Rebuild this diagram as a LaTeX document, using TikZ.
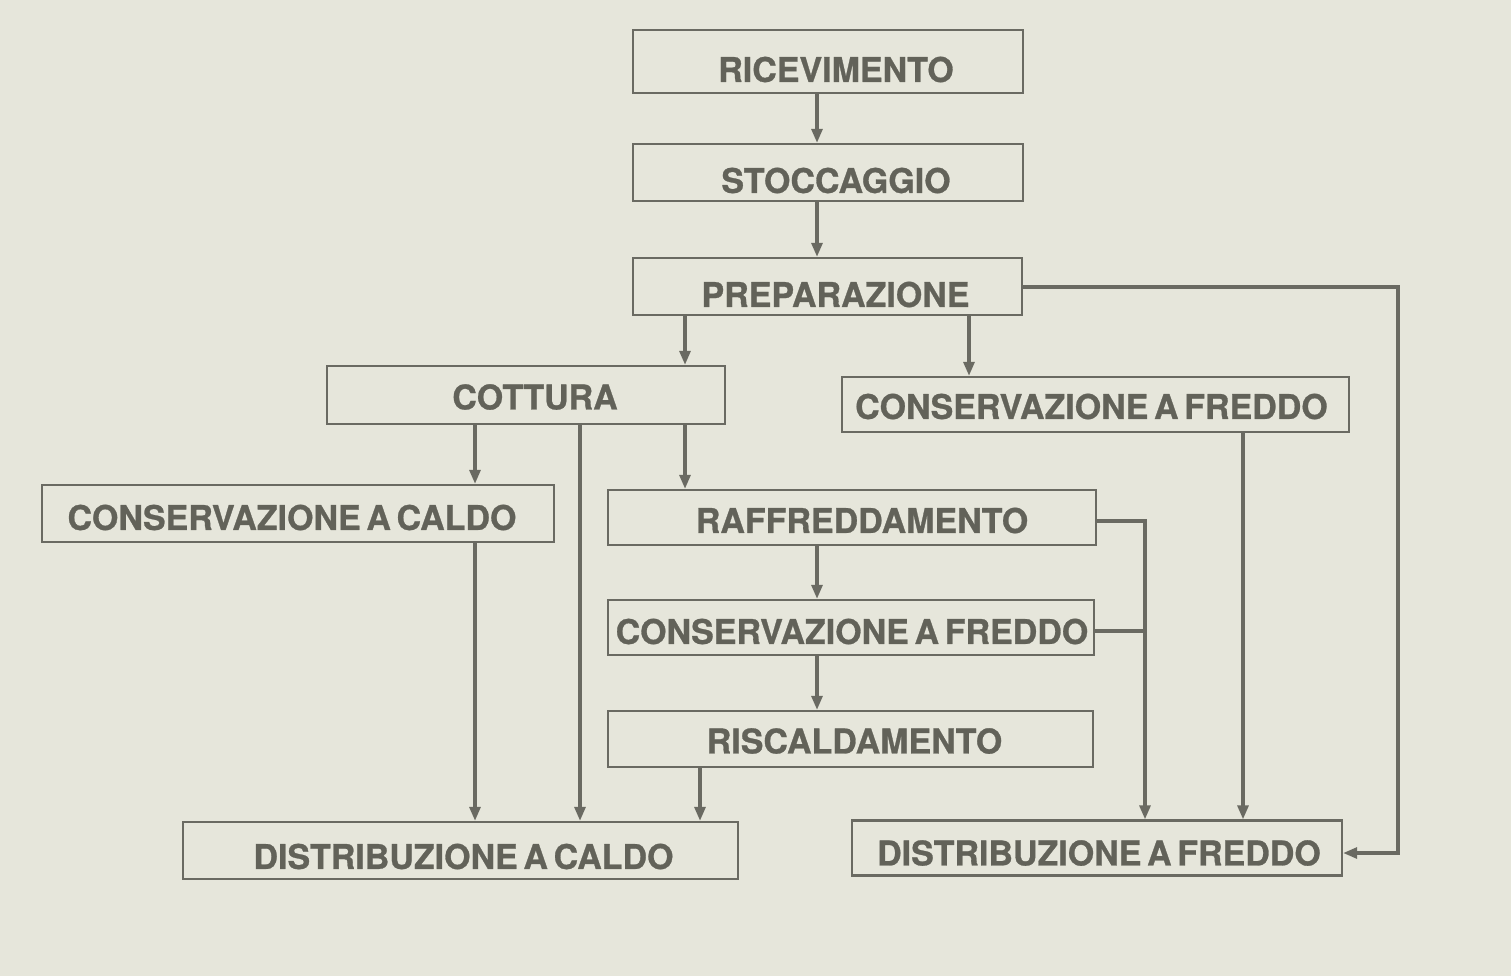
\documentclass[tikz,border=0pt]{standalone}
\usepackage{fontspec}
\setmainfont{TeX Gyre Heros}
\newfontfamily\lblfont{TeX Gyre Heros}[WordSpace=0.6,BoldFeatures={FakeBold=0.8}]
\usetikzlibrary{arrows.meta}
\definecolor{bg}{HTML}{E6E6DB}
\definecolor{ln}{HTML}{6A6A62}
\definecolor{tx}{HTML}{626259}
\begin{document}
\begin{tikzpicture}[x=0.5pt,y=-0.5pt,
  box/.style={draw=ln,line width=1.1pt,fill=bg,inner sep=0pt},
  lbl/.style={text=tx,font=\lblfont\fontsize{17}{19}\selectfont\bfseries,inner sep=0pt},
  arr/.style={draw=ln,line width=1.7pt,-{Triangle[length=7pt,width=5.4pt]}},
  ln2/.style={draw=ln,line width=1.7pt}]
\fill[bg] (0,0) rectangle (1511,976);
\useasboundingbox (0,0) rectangle (1511,976);
% boxes
\node[box,minimum width=195pt,minimum height=31.5pt,label={[lbl,xshift=4pt,yshift=-4pt]center:RICEVIMENTO}] (ric) at (828,61.5) {};
\node[box,minimum width=195pt,minimum height=28.5pt,label={[lbl,xshift=4pt,yshift=-4pt]center:STOCCAGGIO}] (sto) at (828,172.5) {};
\node[box,minimum width=194.5pt,minimum height=28.5pt,label={[lbl,xshift=4pt,yshift=-4pt]center:PREPARAZIONE}] (prep) at (827.5,286.5) {};
\node[box,minimum width=199pt,minimum height=29pt,label={[lbl,xshift=4.5pt,yshift=-1pt]center:COTTURA}] (cot) at (526,395) {};
\node[box,minimum width=253.5pt,minimum height=27.5pt,label={[lbl,xshift=-2pt,yshift=-1pt]center:CONSERVAZIONE A FREDDO}] (cf1) at (1095.5,404.5) {};
\node[box,minimum width=256pt,minimum height=28.5pt,label={[lbl,xshift=-3pt,yshift=-2pt]center:CONSERVAZIONE A CALDO}] (cc) at (298,513.5) {};
\node[box,minimum width=244pt,minimum height=27.5pt,label={[lbl,xshift=5pt,yshift=-1.5pt]center:RAFFREDDAMENTO}] (raf) at (852,517.5) {};
\node[box,minimum width=243pt,minimum height=27.5pt,label={[lbl,xshift=0.5pt,yshift=-2pt]center:CONSERVAZIONE A FREDDO}] (cf2) at (851,627.5) {};
\node[box,minimum width=242.5pt,minimum height=28pt,label={[lbl,xshift=2pt,yshift=-1pt]center:RISCALDAMENTO}] (ris) at (850.5,739) {};
\node[box,minimum width=277.5pt,minimum height=28.5pt,label={[lbl,xshift=1.5pt,yshift=-3pt]center:DISTRIBUZIONE A CALDO}] (dc) at (460.5,850.5) {};
\node[box,minimum width=245pt,minimum height=27.5pt,label={[lbl,xshift=1pt,yshift=-2.5pt]center:DISTRIBUZIONE A FREDDO}] (df) at (1097,848) {};
% connectors
\draw[arr] (ric.south -| 817,0) -- (sto.north -| 817,0);
\draw[arr] (sto.south -| 817,0) -- (prep.north -| 817,0);
\draw[arr] (prep.south -| 685,0) -- (cot.north -| 685,0);
\draw[arr] (prep.south -| 969,0) -- (cf1.north -| 969,0);
\coordinate (pr1) at (1398,287);
\coordinate (pr2) at (1398,853);
\draw[arr] (prep.east |- pr1) -- (pr1) -- (pr2) -- (df.east |- pr2);
\draw[arr] (cot.south -| 475,0) -- (cc.north -| 475,0);
\draw[arr] (cot.south -| 580,0) -- (dc.north -| 580,0);
\draw[arr] (cot.south -| 685,0) -- (raf.north -| 685,0);
\draw[arr] (cc.south -| 475,0) -- (dc.north -| 475,0);
\draw[arr] (raf.south -| 817,0) -- (cf2.north -| 817,0);
\draw[arr] (cf2.south -| 817,0) -- (ris.north -| 817,0);
\draw[arr] (ris.south -| 700,0) -- (dc.north -| 700,0);
\coordinate (rf1) at (1145,521);
\coordinate (rf2) at (1145,631);
\draw[arr] (raf.east |- rf1) -- (rf1) -- (df.north -| rf1);
\draw[ln2] (cf2.east |- rf2) -- (rf2);
\draw[arr] (cf1.south -| 1243,0) -- (df.north -| 1243,0);
\end{tikzpicture}
\end{document}
